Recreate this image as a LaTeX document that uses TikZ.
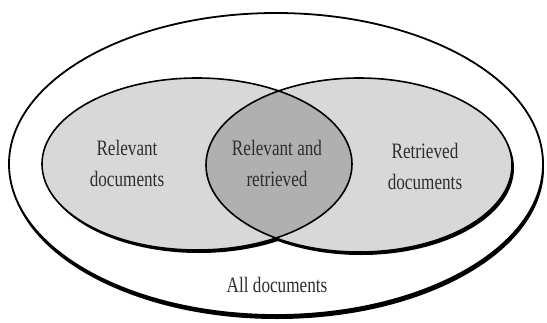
\documentclass[tikz,border=0pt]{standalone}
\usepackage{fontspec}
\setmainfont{Liberation Serif}
\definecolor{lightfill}{HTML}{D8D8D8}
\definecolor{darkfill}{HTML}{B0B0B0}
\definecolor{txt}{HTML}{2E2E2E}
\begin{document}
\begin{tikzpicture}[x=1pt,y=-1pt,
  outline/.style={draw=black,line width=1.8pt},
  label/.style={text=txt,align=center,font=\fontsize{22}{31}\selectfont,xscale=0.78,inner sep=0pt}]
\useasboundingbox (0,0) rectangle (547,322);
% outer ellipse with shadow
\fill[black] (277,168) ellipse [x radius=267pt, y radius=151pt];
\filldraw[fill=white,outline] (276,164) ellipse [x radius=267pt, y radius=151pt];
% inner shadows
\fill[black] (199,167) ellipse [x radius=155pt, y radius=86pt];
\fill[black] (361,168) ellipse [x radius=153pt, y radius=87pt];
% fills
\fill[lightfill] (197,164) ellipse [x radius=155pt, y radius=86pt];
\fill[lightfill] (359,165) ellipse [x radius=153pt, y radius=87pt];
\begin{scope}
  \clip (197,164) ellipse [x radius=155pt, y radius=86pt];
  \fill[darkfill] (359,165) ellipse [x radius=153pt, y radius=87pt];
\end{scope}
% outlines
\draw[outline,line width=1.6pt] (197,164) ellipse [x radius=155pt, y radius=86pt];
\draw[outline,line width=1.6pt] (359,165) ellipse [x radius=153pt, y radius=87pt];
% labels
\node[label] (rel) at (127,163) {Relevant\\documents};
\node[label] (both) at (277,163) {Relevant and\\retrieved};
\node[label] (ret) at (425,166) {Retrieved\\documents};
\node[label] (all) at (277,285) {All documents};
\end{tikzpicture}
\end{document}
